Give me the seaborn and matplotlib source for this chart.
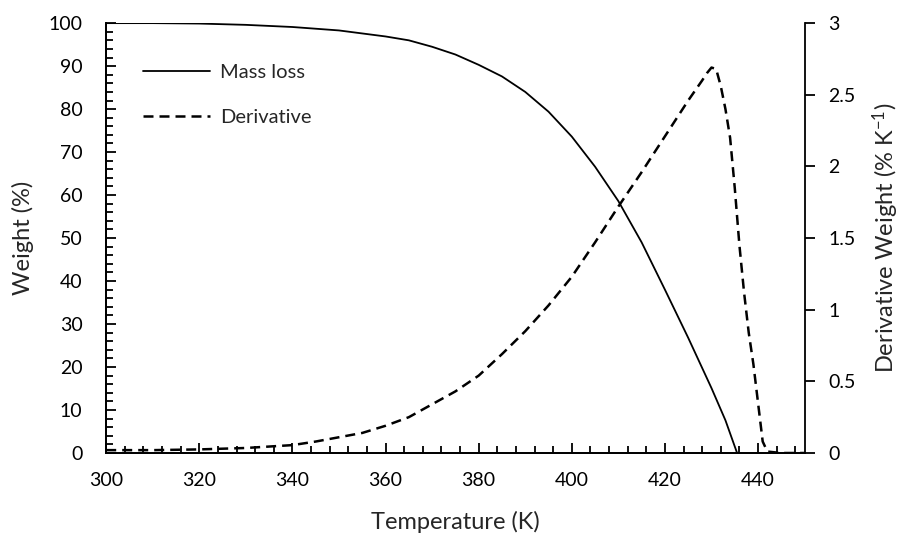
import numpy as np
import pandas as pd
import matplotlib
matplotlib.use("Agg")
import matplotlib.pyplot as plt
from matplotlib.ticker import MultipleLocator, FuncFormatter
from matplotlib.lines import Line2D
import seaborn as sns

# Data
mass_temp = [300, 310, 320, 330, 340, 345, 350, 355, 360, 365, 370, 375, 380,
             385, 390, 395, 400, 405, 410, 415, 420, 425, 430, 433, 435.5]
mass_loss = [100, 100, 99.9, 99.6, 99.1, 98.7, 98.3, 97.6, 96.9, 96.0, 94.5,
             92.7, 90.3, 87.6, 84.0, 79.4, 73.6, 66.6, 58.6, 49.0, 38.0, 26.8,
             15.1, 7.6, 0.0]

deriv_temp = [300, 310, 320, 330, 340, 345, 350, 355, 360, 365, 370, 375, 380,
              385, 390, 395, 400, 405, 410, 415, 420, 425, 428, 429, 430, 431,
              432, 433, 434, 435, 436, 437, 438, 439, 440, 441, 442, 445, 450]
derivative = [0.02, 0.02, 0.025, 0.035, 0.055, 0.08, 0.11, 0.14, 0.19, 0.25,
              0.34, 0.43, 0.54, 0.69, 0.85, 1.03, 1.23, 1.47, 1.72, 1.96, 2.21,
              2.46, 2.60, 2.65, 2.69, 2.68, 2.56, 2.40, 2.20, 1.85, 1.45, 1.12,
              0.84, 0.62, 0.35, 0.08, 0.01, 0.0, 0.0]

series_labels = ["Mass loss", "Derivative"]
x_label = "Temperature (K)"
y_label = "Weight (%)"
y2_label = r"Derivative Weight (% K$\mathregular{^{-1}}$)"

sns.set_style("white")
plt.rcParams["font.family"] = ["Lato", "DejaVu Sans"]
plt.rcParams["mathtext.default"] = "regular"

df_mass = pd.DataFrame({"T": mass_temp, "W": mass_loss})
df_der = pd.DataFrame({"T": deriv_temp, "D": derivative})

fig = plt.figure(figsize=(9, 5.38), dpi=100)
ax = fig.add_axes([0.118, 0.158, 0.776, 0.799])
ax2 = ax.twinx()

sns.lineplot(data=df_mass, x="T", y="W", ax=ax, color="black", lw=1.3,
             legend=False, estimator=None, sort=False)
sns.lineplot(data=df_der, x="T", y="D", ax=ax2, color="black", lw=1.8,
             legend=False, estimator=None, sort=False)
ax2.lines[0].set_dashes((4, 2.4))
for a in (ax, ax2):
    for ln in a.lines:
        ln.set_solid_joinstyle("round")
        ln.set_dash_joinstyle("round")

ax.set_xlim(300, 450)
ax.set_ylim(0, 100)
ax2.set_ylim(0, 3)

fs = 14
lfs = 17
ax.xaxis.set_major_locator(MultipleLocator(20))
ax.xaxis.set_minor_locator(MultipleLocator(4))
ax.yaxis.set_major_locator(MultipleLocator(10))
ax.yaxis.set_minor_locator(MultipleLocator(2))
ax2.yaxis.set_major_locator(MultipleLocator(0.5))
ax2.yaxis.set_major_formatter(FuncFormatter(lambda v, p: f"{v:g}"))

ax.tick_params(axis="x", which="both", direction="in", bottom=True, top=False,
               labelsize=fs, pad=14, color="black", labelcolor="black")
ax.tick_params(axis="x", which="major", length=7, width=1.3)
ax.tick_params(axis="x", which="minor", length=5, width=1.3)
ax.tick_params(axis="y", which="both", direction="in", left=True, right=False,
               labelsize=fs, pad=17, color="black", labelcolor="black")
ax.tick_params(axis="y", which="major", length=7, width=1.3)
ax.tick_params(axis="y", which="minor", length=5, width=1.3)
ax2.tick_params(axis="y", which="major", direction="out", right=True, left=False,
                length=7, width=1.3, labelsize=fs, pad=10, color="black",
                labelcolor="black")

for a in (ax, ax2):
    a.spines["top"].set_visible(False)
    for s in ("left", "right", "bottom"):
        a.spines[s].set_color("black")
        a.spines[s].set_linewidth(1.3)
ax.spines["right"].set_visible(False)

ax.set_xlabel(x_label, fontsize=lfs)
ax.set_ylabel(y_label, fontsize=lfs)
ax2.set_ylabel(y2_label, fontsize=lfs)
ax.xaxis.set_label_coords(0.5, -0.135)
ax.yaxis.set_label_coords(-0.103, 0.5)
ax2.yaxis.set_label_coords(1.095, 0.5)

handles = [Line2D([], [], color="black", lw=1.3),
           Line2D([], [], color="black", lw=1.8, dashes=(4, 2.4))]
ax2.legend(handles, series_labels, loc="upper left",
           bbox_to_anchor=(0.053, 0.905), frameon=False, fontsize=14.5,
           borderaxespad=0, borderpad=0,
           handlelength=3.3, handletextpad=0.5, labelspacing=1.4)

fig.savefig("out.png", dpi=100)
